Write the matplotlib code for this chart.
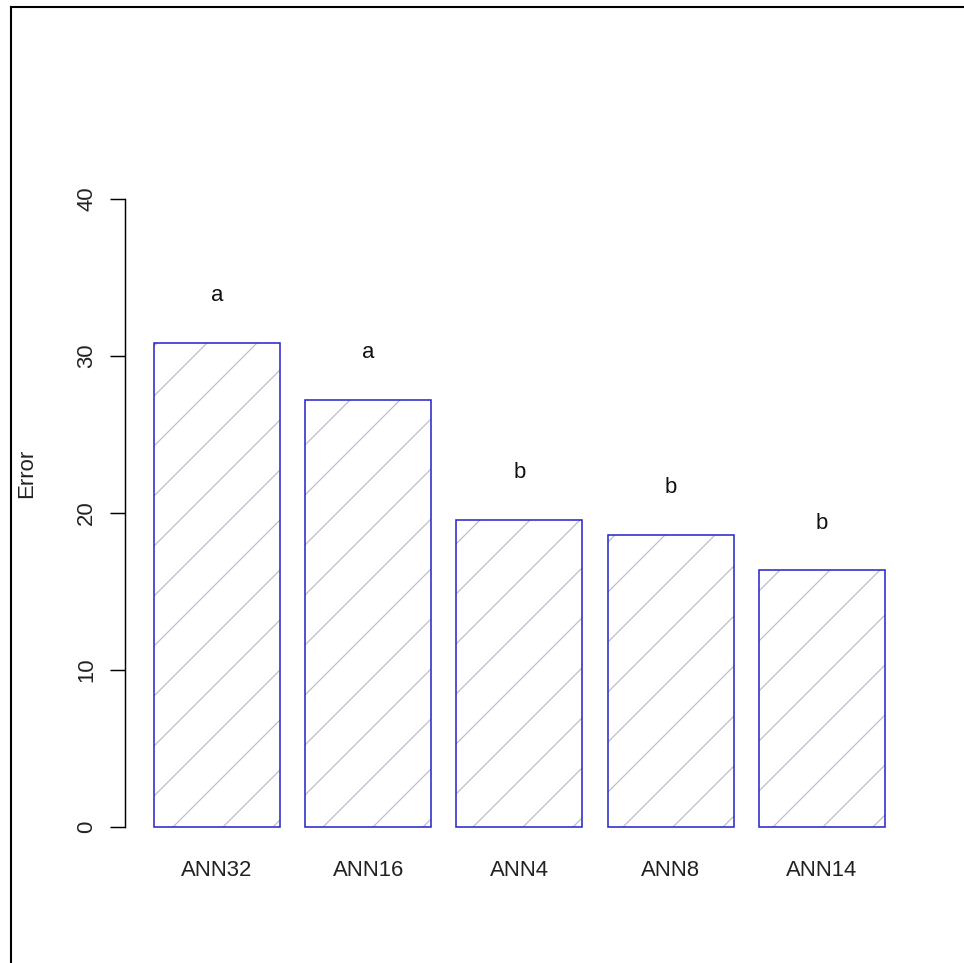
import matplotlib
matplotlib.use("Agg")
import matplotlib.pyplot as plt
from matplotlib.lines import Line2D

# ==================== Data ====================
CATEGORIES = ["ANN32", "ANN16", "ANN4", "ANN8", "ANN14"]
ERRORS = [30.85, 27.2, 19.55, 18.6, 16.35]
GROUP_LETTERS = ["a", "a", "b", "b", "b"]
Y_TICKS = [0, 10, 20, 30, 40]

# ==================== Style ====================
DPI = 300                   # high dpi so the hatch gets R-like wide spacing
FIG_W_PX, FIG_H_PX = 964, 963
BAR_EDGE = "#2a2ac8"
HATCH_COLOR = "#b8b8d8"
FONT = "Liberation Sans"
FONT_SIZE = 5.3             # points at 300 dpi (~22 px)
LETTER_OFFSET = 3.0
Y_LIM = (-1.8, 46.8)        # R: ylim=c(0,45) with 4% expansion
X_LIM = (-0.032, 6.232)

plt.rcParams["font.family"] = [FONT, "DejaVu Sans"]
plt.rcParams["hatch.linewidth"] = 0.28

# pixel geometry of the plot region (y=0 at 827 px, 15.7 px per unit)
px_per_unit = 15.7
bottom_px = 827 + (-Y_LIM[0]) * px_per_unit
top_px = 827 - Y_LIM[1] * px_per_unit
left_px, right_px = 124.8, 914

fig = plt.figure(figsize=(FIG_W_PX / DPI, FIG_H_PX / DPI), dpi=DPI)
ax = fig.add_axes([left_px / FIG_W_PX, (FIG_H_PX - bottom_px) / FIG_H_PX,
                   (right_px - left_px) / FIG_W_PX, (bottom_px - top_px) / FIG_H_PX])

# R barplot layout: width 1, space 0.2
positions = [0.2 + 1.2 * i + 0.5 for i in range(len(CATEGORIES))]

# hatch layer, then outline layer
ax.bar(positions, ERRORS, width=1.0, facecolor="white", edgecolor=HATCH_COLOR,
       hatch="//", linewidth=0)
ax.bar(positions, ERRORS, width=1.0, fill=False, edgecolor=BAR_EDGE, linewidth=0.38)

for x, v, letter in zip(positions, ERRORS, GROUP_LETTERS):
    ax.text(x, v + LETTER_OFFSET, letter, ha="center", va="center",
            fontsize=FONT_SIZE, color="#111111")

ax.set_xlim(*X_LIM)
ax.set_ylim(*Y_LIM)

for side in ["top", "right", "bottom"]:
    ax.spines[side].set_visible(False)
ax.spines["left"].set_bounds(0, 40)
ax.spines["left"].set_linewidth(0.35)

ax.set_yticks(Y_TICKS)
ax.set_yticklabels([str(t) for t in Y_TICKS], rotation=90, va="center",
                   fontsize=FONT_SIZE, color="#222222")
ax.tick_params(axis="y", length=3.6, width=0.35, pad=3.0)

ax.set_xticks(positions)
ax.set_xticklabels(CATEGORIES, fontsize=FONT_SIZE, color="#222222")
ax.tick_params(axis="x", length=0, pad=1.2)

ax.set_ylabel("Error", fontsize=FONT_SIZE, color="#222222")
ax.yaxis.set_label_coords((37 - left_px) / (right_px - left_px), 0.5)

# outer frame (left and top edges only, as in the reference)
fig.add_artist(Line2D([11 / FIG_W_PX, 11 / FIG_W_PX], [0, 1 - 7 / FIG_H_PX],
                      transform=fig.transFigure, color="black", linewidth=0.5))
fig.add_artist(Line2D([11 / FIG_W_PX, 1], [1 - 7 / FIG_H_PX, 1 - 7 / FIG_H_PX],
                      transform=fig.transFigure, color="black", linewidth=0.5))

fig.savefig("out.png", dpi=DPI)
